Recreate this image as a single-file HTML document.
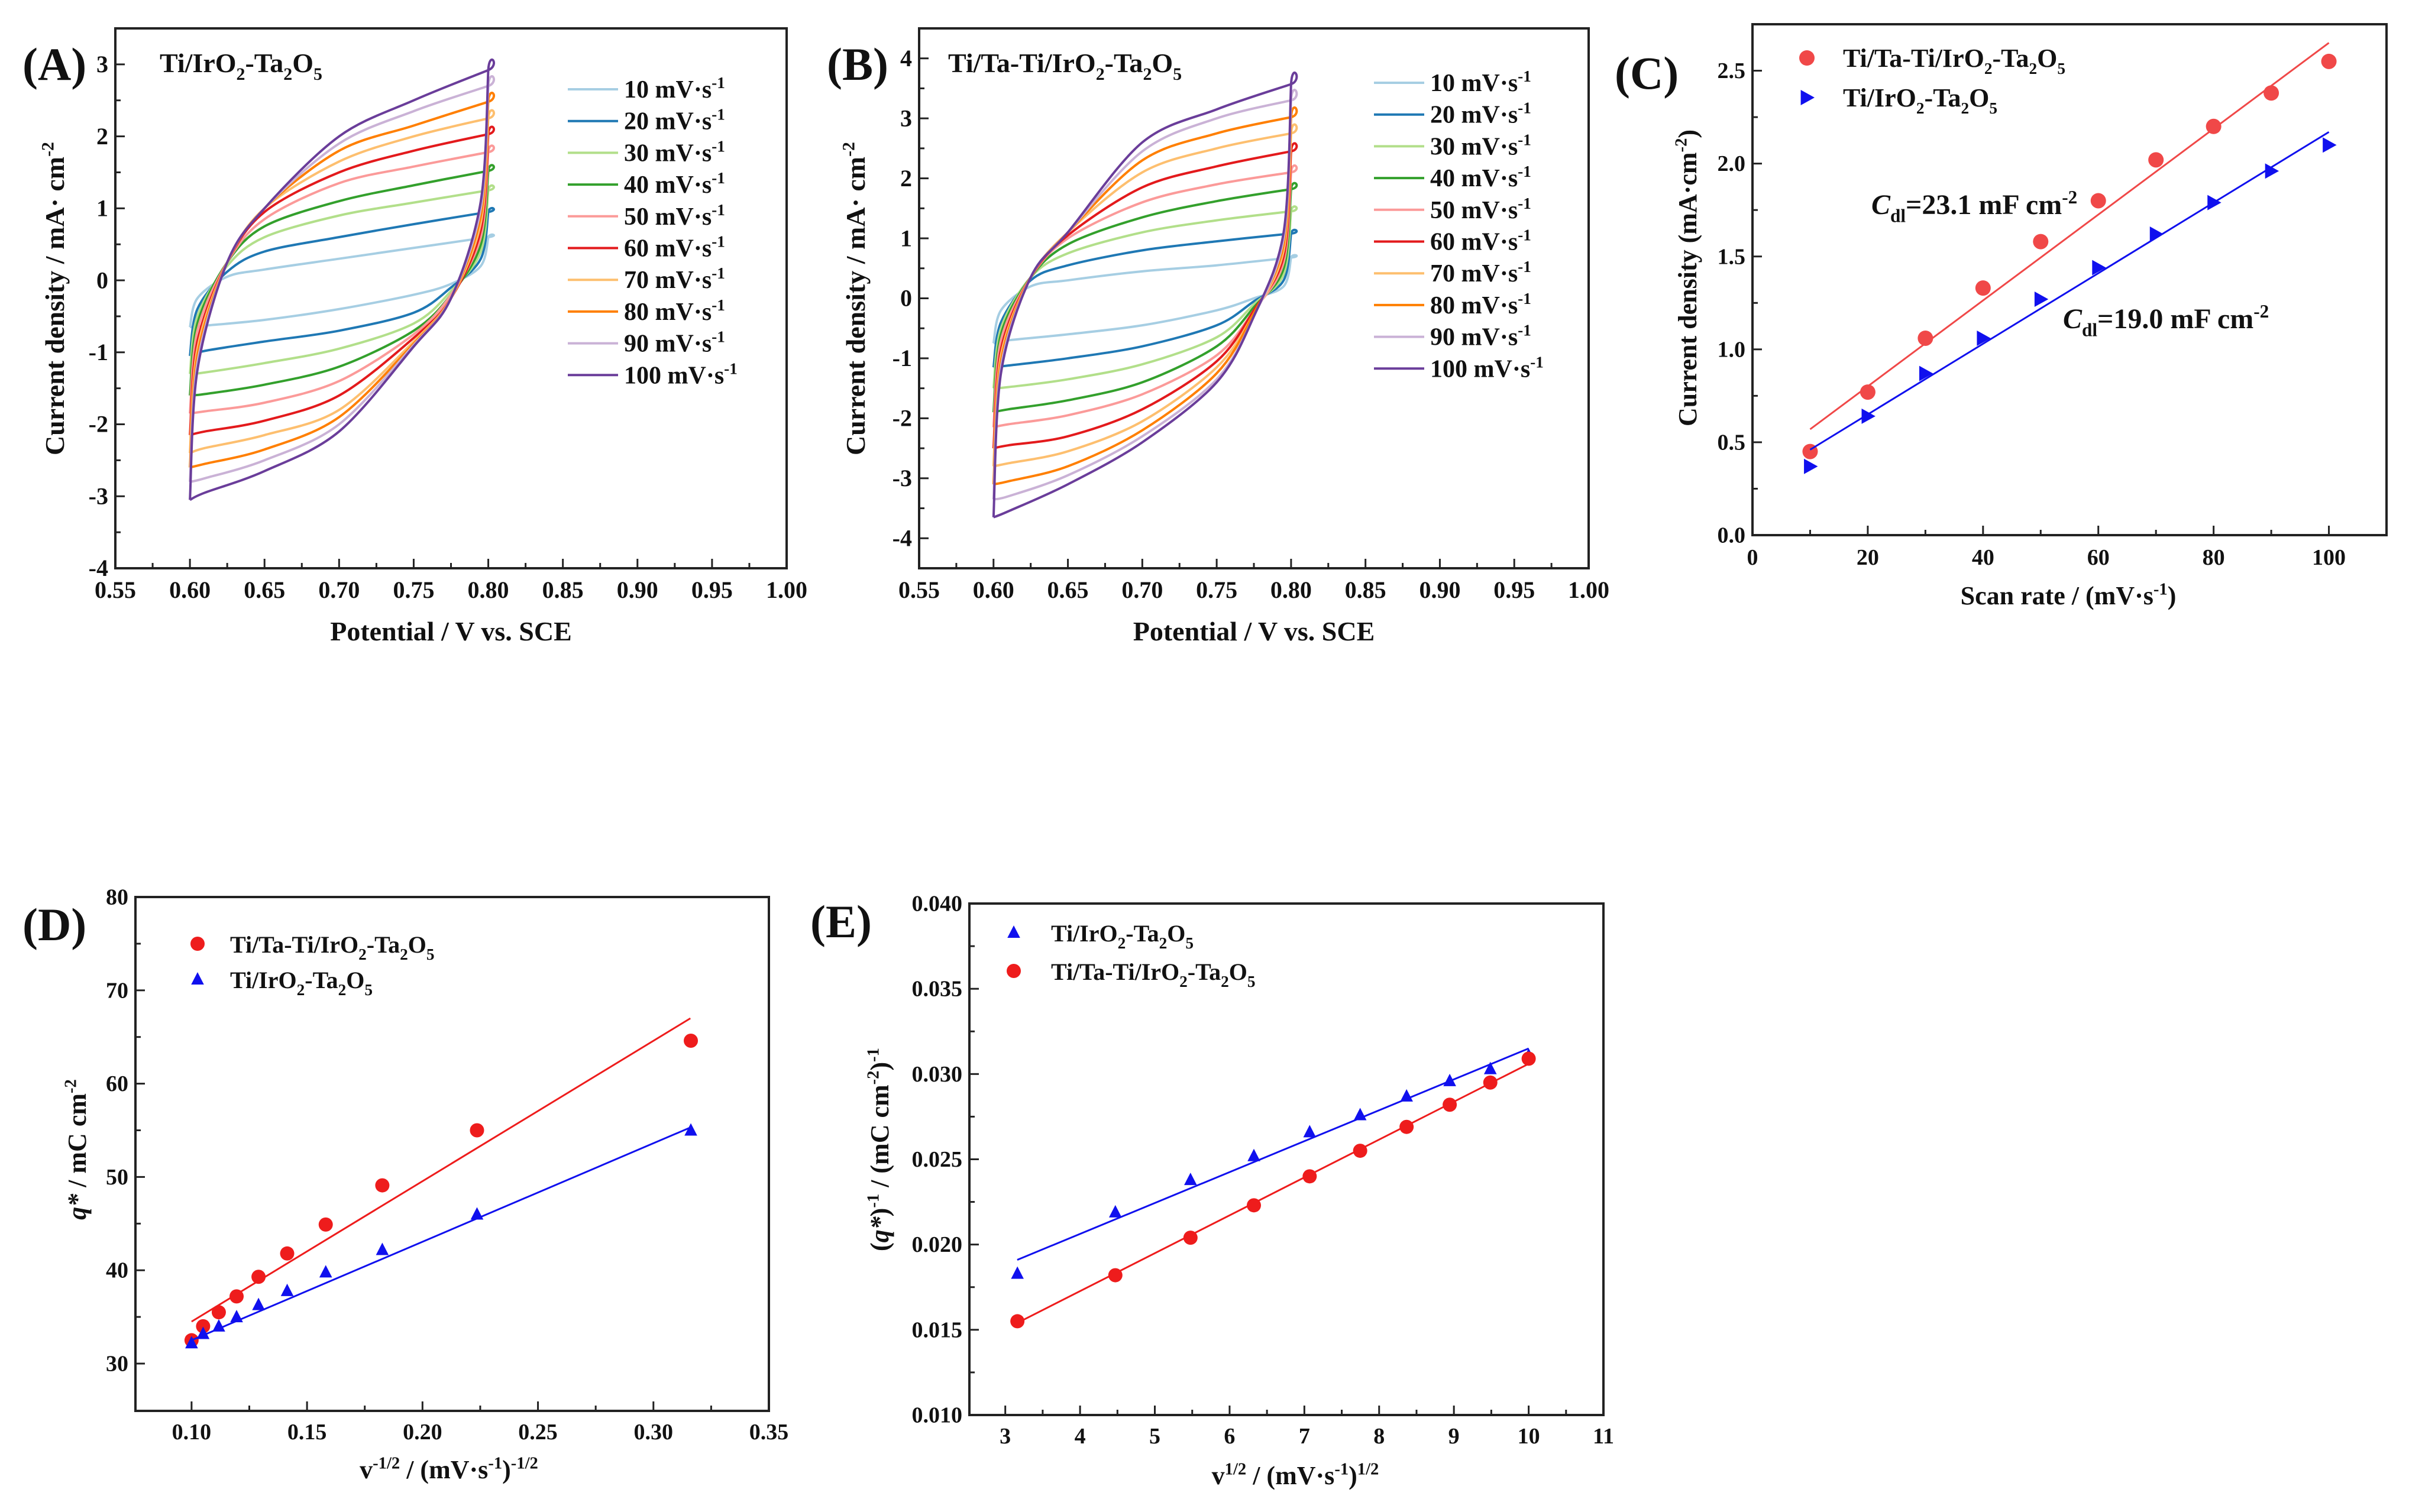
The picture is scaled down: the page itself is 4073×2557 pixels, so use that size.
<!DOCTYPE html>
<html><head><meta charset="utf-8"><style>
html,body{margin:0;padding:0;background:#fff}
svg{display:block}
text{font-family:"Liberation Serif",serif;font-weight:bold;fill:#111}
</style></head><body>
<svg id="fig" width="4073" height="2557" viewBox="0 0 4073 2557" xmlns="http://www.w3.org/2000/svg"></svg>
<script>
// ---------- data ----------
const rates = [10,20,30,40,50,60,70,80,90,100];
const cvColors = ['#a6cee3','#1f78b4','#b2df8a','#33a02c','#fb9a99','#e31a1c','#fdbf6f','#ff7f00','#cab2d6','#6a3d9a'];
const upperPot = [0.60,0.605,0.625,0.65,0.70,0.75,0.80];
const lowerPot = [0.80,0.795,0.775,0.75,0.70,0.65,0.61,0.60];
const cvA_upper = [
 [-0.65,-0.25,0.05,0.15,0.3,0.45,0.6],
 [-1.05,-0.4,0.12,0.4,0.6,0.78,0.95],
 [-1.3,-0.5,0.2,0.6,0.9,1.08,1.25],
 [-1.6,-0.6,0.25,0.75,1.1,1.32,1.52],
 [-1.85,-0.7,0.25,0.85,1.35,1.58,1.78],
 [-2.15,-0.85,0.25,0.95,1.5,1.8,2.03],
 [-2.4,-0.95,0.25,1.0,1.65,2.0,2.25],
 [-2.6,-1.05,0.25,1.0,1.8,2.15,2.48],
 [-2.8,-1.15,0.25,1.0,1.9,2.35,2.7],
 [-3.05,-1.25,0.25,1.0,2.0,2.5,2.92]];
const cvA_lower = [
 [0.6,0.2,-0.05,-0.2,-0.4,-0.55,-0.63,-0.65],
 [0.95,0.3,-0.1,-0.45,-0.7,-0.85,-0.98,-1.05],
 [1.25,0.4,-0.15,-0.6,-0.95,-1.15,-1.28,-1.3],
 [1.52,0.5,-0.2,-0.7,-1.2,-1.45,-1.58,-1.6],
 [1.78,0.6,-0.2,-0.75,-1.4,-1.7,-1.82,-1.85],
 [2.03,0.7,-0.25,-0.8,-1.6,-1.95,-2.1,-2.15],
 [2.25,0.8,-0.25,-0.85,-1.8,-2.15,-2.33,-2.4],
 [2.48,0.9,-0.25,-0.88,-1.9,-2.35,-2.55,-2.6],
 [2.7,1.0,-0.25,-0.9,-2.0,-2.5,-2.75,-2.8],
 [2.92,1.1,-0.25,-0.92,-2.1,-2.65,-2.95,-3.05]];
const cvB_upper = [
 [-0.75,-0.2,0.2,0.3,0.45,0.55,0.68],
 [-1.15,-0.4,0.3,0.55,0.8,0.95,1.08],
 [-1.5,-0.5,0.35,0.75,1.1,1.3,1.45],
 [-1.9,-0.6,0.35,0.9,1.35,1.62,1.82],
 [-2.15,-0.7,0.35,1.0,1.6,1.9,2.1],
 [-2.5,-0.85,0.35,1.05,1.85,2.2,2.45],
 [-2.8,-0.95,0.35,1.1,2.1,2.5,2.75],
 [-3.1,-1.05,0.35,1.1,2.3,2.75,3.02],
 [-3.35,-1.15,0.35,1.1,2.45,3.0,3.3],
 [-3.65,-1.25,0.35,1.1,2.6,3.15,3.57]];
const cvB_lower = [
 [0.68,0.2,0.0,-0.2,-0.45,-0.6,-0.7,-0.75],
 [1.08,0.3,-0.05,-0.45,-0.8,-1.0,-1.12,-1.15],
 [1.45,0.4,-0.1,-0.65,-1.1,-1.35,-1.48,-1.5],
 [1.82,0.5,-0.15,-0.8,-1.4,-1.7,-1.85,-1.9],
 [2.1,0.6,-0.2,-0.95,-1.6,-1.95,-2.1,-2.15],
 [2.45,0.7,-0.2,-1.05,-1.85,-2.3,-2.45,-2.5],
 [2.75,0.8,-0.25,-1.15,-2.05,-2.55,-2.75,-2.8],
 [3.02,0.9,-0.25,-1.25,-2.2,-2.8,-3.05,-3.1],
 [3.3,1.0,-0.3,-1.35,-2.3,-2.95,-3.3,-3.35],
 [3.57,1.1,-0.3,-1.4,-2.4,-3.1,-3.55,-3.65]];
// panel C
const scanRates = [10,20,30,40,50,60,70,80,90,100];
const cRed = [0.45,0.77,1.06,1.33,1.58,1.80,2.02,2.20,2.38,2.55];
const cBlue = [0.37,0.64,0.87,1.06,1.27,1.44,1.62,1.79,1.96,2.10];
const cRedFit = [[10,0.57],[100,2.65]];
const cBlueFit = [[10,0.46],[100,2.17]];
// panel D
const dX = [0.1,0.105,0.1118,0.1195,0.129,0.1414,0.1581,0.1826,0.2236,0.3162];
const dRed = [32.5,34,35.5,37.2,39.3,41.8,44.9,49.1,55,64.6];
const dBlue = [32.2,33.2,34,35,36.3,37.8,39.8,42.2,46,55];
const dRedFit = [[0.1,34.5],[0.316,67]];
const dBlueFit = [[0.1,32.5],[0.316,55.3]];
// panel E
const eX = [3.162,4.472,5.477,6.325,7.071,7.746,8.367,8.944,9.487,10];
const eBlue = [0.0183,0.0219,0.0238,0.0252,0.0266,0.0276,0.0287,0.0296,0.0303,0.0311];
const eRed = [0.0155,0.0182,0.0204,0.0223,0.0240,0.0255,0.0269,0.0282,0.0295,0.0309];
const eBlueFit = [[3.16,0.0191],[10,0.0315]];
const eRedFit = [[3.16,0.0154],[10,0.0306]];

// ---------- helpers ----------
const NS='http://www.w3.org/2000/svg';
const svg=document.getElementById('fig');
function mk(tag,attrs,parent){const e=document.createElementNS(NS,tag);for(const k in attrs)e.setAttribute(k,attrs[k]);(parent||svg).appendChild(e);return e;}
function sub(t,fs){return `<tspan dy="${fs*0.28}" font-size="${fs*0.65}">${t}</tspan><tspan dy="${-fs*0.28}">&#8203;</tspan>`;}
function sup(t,fs){return `<tspan dy="${-fs*0.38}" font-size="${fs*0.65}">${t}</tspan><tspan dy="${fs*0.38}">&#8203;</tspan>`;}
function txt(x,y,html,fs,anchor,parent,extra){const e=mk('text',Object.assign({x:x,y:y,'font-size':fs,'text-anchor':anchor||'start'},extra||{}),parent);e.innerHTML=html;return e;}

function axes(g,p){
  const sx=v=>p.x0+(v-p.xmin)/(p.xmax-p.xmin)*(p.x1-p.x0);
  const sy=v=>p.y1-(v-p.ymin)/(p.ymax-p.ymin)*(p.y1-p.y0);
  const fr=mk('rect',{x:p.x0,y:p.y0,width:p.x1-p.x0,height:p.y1-p.y0,fill:'none',stroke:'#222','stroke-width':4},g);
  
  
  for(let i=0;i<p.xt.length;i++){const v=p.xt[i];const X=sx(v);
    mk('line',{x1:X,x2:X,y1:p.y1,y2:p.y1-16,stroke:'#222','stroke-width':3},g);
    const t=txt(X,p.y1+p.xlabOff,p.xl[i],p.tfs,'middle',g);
    
    
    if(i<p.xt.length-1){const m=sx((v+p.xt[i+1])/2);if(m<p.x1-2)mk('line',{x1:m,x2:m,y1:p.y1,y2:p.y1-9,stroke:'#222','stroke-width':3},g);}
  }
  for(let i=0;i<p.yt.length;i++){const v=p.yt[i];const Y=sy(v);
    mk('line',{x1:p.x0,x2:p.x0+16,y1:Y,y2:Y,stroke:'#222','stroke-width':3},g);
    const t=txt(p.x0-12,Y+p.tfs*0.33,p.yl[i],p.tfs,'end',g);
    
    
    const nv=i<p.yt.length-1?(v+p.yt[i+1])/2:v+(v-p.yt[i-1])/2;const m=sy(nv);
    if(m>p.y0+2&&m<p.y1-2)mk('line',{x1:p.x0,x2:p.x0+9,y1:m,y2:m,stroke:'#222','stroke-width':3},g);
    if(i==0){const m0=sy(v-(p.yt[1]-v)/2);if(m0<p.y1-2&&m0>p.y0)mk('line',{x1:p.x0,x2:p.x0+9,y1:m0,y2:m0,stroke:'#222','stroke-width':3},g);}
  }
  return {sx,sy};
}
function smooth(pts){
  let d=`M${pts[0][0]},${pts[0][1]}`;
  for(let i=0;i<pts.length-1;i++){
    const p0=pts[Math.max(0,i-1)],p1=pts[i],p2=pts[i+1],p3=pts[Math.min(pts.length-1,i+2)];
    const k=0.16;
    const c1=[p1[0]+(p2[0]-p0[0])*k,p1[1]+(p2[1]-p0[1])*k];
    const c2=[p2[0]-(p3[0]-p1[0])*k,p2[1]-(p3[1]-p1[1])*k];
    d+=` C${c1[0]},${c1[1]} ${c2[0]},${c2[1]} ${p2[0]},${p2[1]}`;
  }
  return d;
}
function range(a,b,s){const r=[];for(let v=a;v<=b+s/1000;v+=s)r.push(+v.toFixed(6));return r;}

// ---------- CV panels ----------
function cvPanel(name,cfg,U,L){
  const g=mk('g',{});
  
  
  const xt=range(0.55,1.00,0.05);
  const yt=range(cfg.ymin0,cfg.ymax0,1);
  const {sx,sy}=axes(g,{x0:cfg.x0,x1:cfg.x1,y0:48,y1:961,xmin:0.55,xmax:1.0,ymin:cfg.ymin,ymax:cfg.ymax,
    xt:xt,xl:xt.map(v=>v.toFixed(2)),yt:yt,yl:yt.map(v=>String(v)),tfs:40,xlabOff:50});
  for(let r=0;r<rates.length;r++){
    const pts=[];
    for(let i=0;i<upperPot.length;i++)pts.push([sx(upperPot[i]),sy(U[r][i])]);
    for(let i=0;i<lowerPot.length;i++)pts.push([sx(lowerPot[i]),sy(L[r][i])]);
    const pa=mk('path',{d:smooth(pts),fill:'none',stroke:cvColors[r],'stroke-width':4},g);
    
    
    const ly=cfg.legY+r*53.7;
    const ll=mk('line',{x1:cfg.legX,x2:cfg.legX+85,y1:ly,y2:ly,stroke:cvColors[r],'stroke-width':4},g);
    
    
    const lt=txt(cfg.legX+95,ly+14,rates[r]+' mV&#183;s'+sup('-1',42),42,'start',g,{'font-weight':'normal'});
    
    
  }
  const pl=txt(cfg.lblX,135,'('+cfg.lbl+')',78,'start',g);
  
  
  const tt=txt(cfg.titX,122,cfg.title,46,'start',g);
  
  
  const xa=txt((cfg.x0+cfg.x1)/2,1083,'Potential / V vs. SCE',46,'middle',g);
  
  
  const ya=txt(0,0,'Current density / mA&#183; cm'+sup('-2',46),46,'middle',g,{transform:`translate(${cfg.ytX},505) rotate(-90)`});
  
  
}
cvPanel('panel-a-cv',{x0:195,x1:1330,ymin:-4,ymax:3.5,ymin0:-4,ymax0:3,legX:960,legY:151,lbl:'A',lblX:38,titX:270,ytX:108,
  title:'Ti/IrO'+sub('2',46)+'-Ta'+sub('2',46)+'O'+sub('5',46)},cvA_upper,cvA_lower);
cvPanel('panel-b-cv',{x0:1554,x1:2686,ymin:-4.5,ymax:4.5,ymin0:-4,ymax0:4,legX:2323,legY:140,lbl:'B',lblX:1398,titX:1603,ytX:1462,
  title:'Ti/Ta-Ti/IrO'+sub('2',46)+'-Ta'+sub('2',46)+'O'+sub('5',46)},cvB_upper,cvB_lower);

// ---------- scatter panels ----------
function marker(g,type,x,y,color,s){
  let e;
  if(type==='circle')e=mk('circle',{cx:x,cy:y,r:s,fill:color},g);
  else if(type==='tri-right')e=mk('polygon',{points:`${x-s*0.8},${y-s} ${x-s*0.8},${y+s} ${x+s},${y}`,fill:color},g);
  else e=mk('polygon',{points:`${x},${y-s} ${x-s*0.9},${y+s*0.75} ${x+s*0.9},${y+s*0.75}`,fill:color},g);
  return e;
}
function scatterPanel(name,cfg){
  const g=mk('g',{});
  
  
  const {sx,sy}=axes(g,cfg.ax);
  cfg.series.forEach(s=>{
    const fl=mk('line',{x1:sx(s.fit[0][0]),y1:sy(s.fit[0][1]),x2:sx(s.fit[1][0]),y2:sy(s.fit[1][1]),stroke:s.color,'stroke-width':3},g);
    
    
    for(let i=0;i<s.x.length;i++){
      const m=marker(g,s.type,sx(s.x[i]),sy(s.y[i]),s.color,cfg.ms);
      
      
    }
    const lm=marker(g,s.type,cfg.legMX,s.legY,s.color,cfg.ms);
    
    
    const lt=txt(cfg.legTX,s.legY+15,s.label,cfg.lfs,'start',g);
    
    
  });
  const pl=txt(cfg.lblX,cfg.lblY,'('+cfg.lbl+')',78,'start',g);
  
  
  const xa=txt(cfg.xtX,cfg.xtY,cfg.xtitle,44,'middle',g);
  
  
  const ya=txt(0,0,cfg.ytitle,44,'middle',g,{transform:`translate(${cfg.ytX},${cfg.ytY}) rotate(-90)`});
  
  
  return {g,sx,sy};
}
const L1='Ti/Ta-Ti/IrO'+sub('2',42)+'-Ta'+sub('2',42)+'O'+sub('5',42);
const L2='Ti/IrO'+sub('2',42)+'-Ta'+sub('2',42)+'O'+sub('5',42);
const cxt=range(0,100,20), cyt=range(0,2.5,0.5);
const C=scatterPanel('panel-c-cdl',{ax:{x0:2963,x1:4035,y0:41,y1:905,xmin:0,xmax:110,ymin:0,ymax:2.75,xt:cxt,xl:cxt.map(String),yt:cyt,yl:cyt.map(v=>v.toFixed(1)),tfs:38,xlabOff:50},
  ms:13,legMX:3055,legTX:3116,lfs:44,lbl:'C',lblX:2730,lblY:150,
  xtitle:'Scan rate / (mV&#183;s'+sup('-1',44)+')',xtX:3497,xtY:1022,ytitle:'Current density (mA&#183;cm'+sup('-2',44)+')',ytX:2868,ytY:470,
  series:[{key:'red-ti-ta',type:'circle',color:'#f04848',x:scanRates,y:cRed,fit:cRedFit,legY:98,label:L1},
          {key:'blue-ti',type:'tri-right',color:'#1010ee',x:scanRates,y:cBlue,fit:cBlueFit,legY:165,label:L2}]});
const c1=txt(3164,362,'<tspan font-style="italic">C</tspan>'+sub('dl',48)+'=23.1 mF cm'+sup('-2',48),48,'start',C.g,{fill:'#f02020'});


const c2=txt(3488,555,'<tspan font-style="italic">C</tspan>'+sub('dl',48)+'=19.0 mF cm'+sup('-2',48),48,'start',C.g,{fill:'#1010ee'});



const dxt=range(0.10,0.35,0.05), dyt=range(30,80,10);
scatterPanel('panel-d-qstar',{ax:{x0:229,x1:1300,y0:1517,y1:2386,xmin:0.0757,xmax:0.35,ymin:24.93,ymax:80,xt:dxt,xl:dxt.map(v=>v.toFixed(2)),yt:dyt,yl:dyt.map(String),tfs:38,xlabOff:48},
  ms:12,legMX:334,legTX:389,lfs:40,lbl:'D',lblX:38,lblY:1590,
  xtitle:'v'+sup('-1/2',44)+' / (mV&#183;s'+sup('-1',44)+')'+sup('-1/2',44),xtX:759,xtY:2500,
  ytitle:'<tspan font-style="italic">q*</tspan> / mC cm'+sup('-2',44),ytX:145,ytY:1944,
  series:[{key:'red-ti-ta',type:'circle',color:'#ee1c1c',x:dX,y:dRed,fit:dRedFit,legY:1596,label:L1},
          {key:'blue-ti',type:'tri-up',color:'#1010ee',x:dX,y:dBlue,fit:dBlueFit,legY:1656,label:L2}]});

const ext=range(3,11,1), eyt=range(0.010,0.040,0.005);
scatterPanel('panel-e-inverse-q',{ax:{x0:1639,x1:2711,y0:1528,y1:2393,xmin:2.52,xmax:11,ymin:0.010,ymax:0.040,xt:ext,xl:ext.map(String),yt:eyt,yl:eyt.map(v=>v.toFixed(3)),tfs:38,xlabOff:48},
  ms:12,legMX:1714,legTX:1777,lfs:40,lbl:'E',lblX:1370,lblY:1585,
  xtitle:'v'+sup('1/2',44)+' / (mV&#183;s'+sup('-1',44)+')'+sup('1/2',44),xtX:2190,xtY:2510,
  ytitle:'(<tspan font-style="italic">q*</tspan>)'+sup('-1',44)+' / (mC cm'+sup('-2',44)+')'+sup('-1',44),ytX:1502,ytY:1944,
  series:[{key:'blue-ti',type:'tri-up',color:'#1010ee',x:eX,y:eBlue,fit:eBlueFit,legY:1577,label:L2},
          {key:'red-ti-ta',type:'circle',color:'#ee1c1c',x:eX,y:eRed,fit:eRedFit,legY:1642,label:L1}]});
</script>
</body></html>
